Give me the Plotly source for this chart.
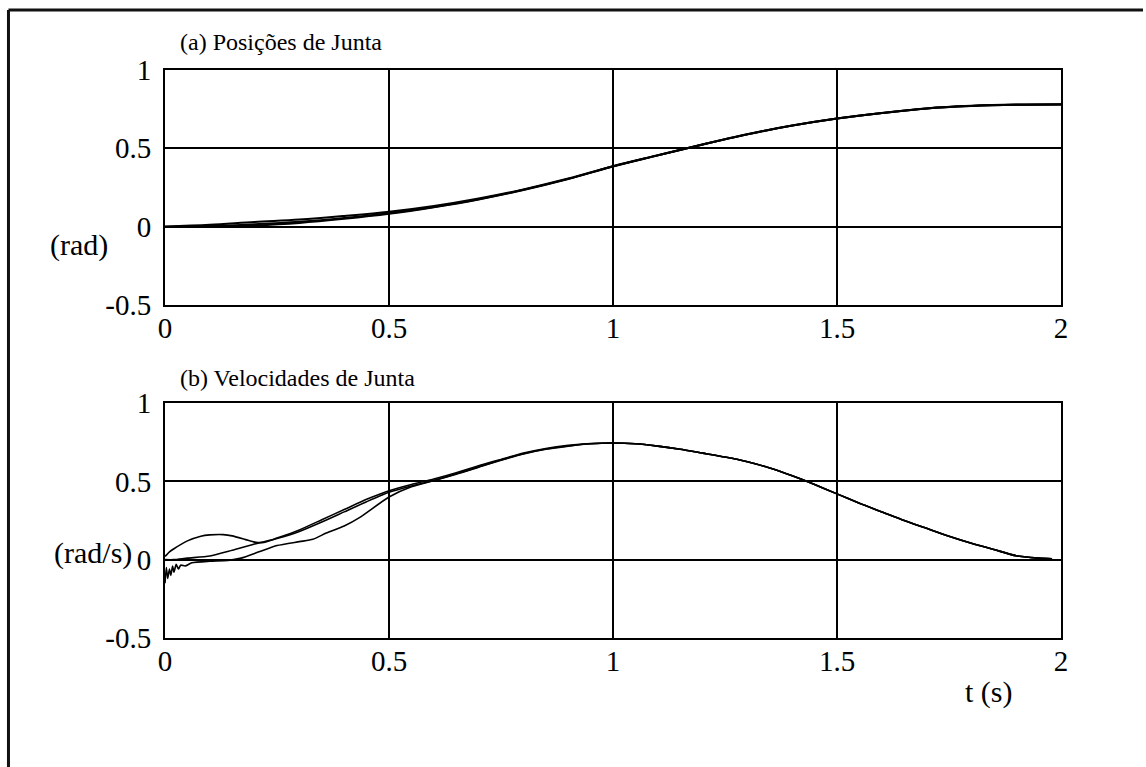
import plotly.graph_objects as go
from plotly.subplots import make_subplots

# ---------------- data ----------------
t_pos = [0.0, 0.1, 0.2, 0.3, 0.4, 0.5, 0.6, 0.7, 0.8, 0.9, 1.0, 1.1, 1.2,
         1.3, 1.4, 1.5, 1.6, 1.7, 1.8, 1.9, 2.0]
pos_a = [0.0, 0.012, 0.03, 0.045, 0.068, 0.095, 0.132, 0.18, 0.238, 0.307, 0.386,
         0.456, 0.525, 0.59, 0.645, 0.69, 0.726, 0.755, 0.771, 0.779, 0.781]
pos_b = [0.0, 0.004, 0.016, 0.032, 0.056, 0.086, 0.126, 0.175, 0.235, 0.305, 0.385,
         0.455, 0.525, 0.59, 0.645, 0.69, 0.725, 0.755, 0.77, 0.778, 0.78]
pos_c = [0.0, 0.0, 0.008, 0.024, 0.05, 0.082, 0.124, 0.174, 0.234, 0.304, 0.384,
         0.455, 0.524, 0.589, 0.645, 0.69, 0.725, 0.754, 0.77, 0.778, 0.78]

# velocity: individual starts + shared tail
t_vel_a = [0.0, 0.01, 0.02, 0.05, 0.08, 0.1, 0.13, 0.15, 0.18, 0.2, 0.22, 0.25,
           0.3, 0.35, 0.4, 0.45, 0.5, 0.55, 0.6, 0.65, 0.7, 0.75, 0.8, 0.85, 0.9, 0.95]
vel_a = [0.02, 0.05, 0.07, 0.12, 0.15, 0.158, 0.16, 0.152, 0.128, 0.112, 0.11, 0.138,
         0.19, 0.255, 0.32, 0.385, 0.44, 0.48, 0.515, 0.555, 0.6, 0.64, 0.68, 0.71, 0.73, 0.742]

t_vel_b = [0.0, 0.02, 0.05, 0.1, 0.15, 0.2, 0.25, 0.3, 0.35, 0.4, 0.45, 0.5,
           0.55, 0.6, 0.65, 0.7, 0.75, 0.8, 0.85, 0.9, 0.95]
vel_b = [0.0, 0.0, 0.01, 0.023, 0.06, 0.1, 0.135, 0.18, 0.24, 0.305, 0.37, 0.43,
         0.47, 0.505, 0.545, 0.59, 0.635, 0.675, 0.705, 0.725, 0.74]

t_vel_c = [0.0, 0.003, 0.006, 0.01, 0.013, 0.017, 0.02, 0.025, 0.03, 0.035, 0.045,
           0.06, 0.1, 0.14, 0.17, 0.21, 0.25, 0.3, 0.33, 0.36, 0.4, 0.435, 0.5,
           0.55, 0.6, 0.65, 0.7, 0.75, 0.8, 0.85, 0.9, 0.95]
vel_c = [-0.15, -0.05, -0.12, -0.06, -0.1, -0.04, -0.08, -0.03, -0.06, -0.035, -0.04,
         -0.02, -0.01, -0.005, 0.01, 0.05, 0.09, 0.115, 0.13, 0.17, 0.215, 0.27, 0.4,
         0.465, 0.505, 0.548, 0.592, 0.637, 0.676, 0.706, 0.726, 0.74]

t_vel_tail = [1.0, 1.05, 1.1, 1.15, 1.2, 1.25, 1.3, 1.35, 1.4, 1.45, 1.5, 1.55,
              1.6, 1.65, 1.7, 1.75, 1.8, 1.85, 1.9, 1.95, 1.98]
vel_tail = [0.745, 0.74, 0.725, 0.705, 0.68, 0.655, 0.625, 0.585, 0.535, 0.48, 0.42,
            0.36, 0.305, 0.25, 0.2, 0.15, 0.105, 0.065, 0.025, 0.01, 0.005]

x_tickvals = [0, 0.5, 1, 1.5, 2]
x_ticktext = ["0", "0.5", "1", "1.5", "2"]
y_tickvals = [-0.5, 0, 0.5, 1]
y_ticktext = ["-0.5", "0", "0.5", "1"]

titles = ["(a) Posições de Junta", "(b) Velocidades de Junta"]
ylabels = ["(rad)", "(rad/s)"]
xlabel = "t (s)"

# ---------------- figure ----------------
FONT = "Liberation Serif, Times New Roman, serif"
fig = make_subplots(rows=2, cols=1, vertical_spacing=0.1726)

for p in (pos_a, pos_b, pos_c):
    fig.add_trace(go.Scatter(x=t_pos, y=p, mode="lines",
                             line=dict(color="black", width=2, shape="spline")),
                  row=1, col=1)
for tv, vv in ((t_vel_a, vel_a), (t_vel_b, vel_b), (t_vel_c, vel_c)):
    fig.add_trace(go.Scatter(x=tv + t_vel_tail, y=vv + vel_tail, mode="lines",
                             line=dict(color="black", width=1.6, shape="spline",
                                       smoothing=0.6)), row=2, col=1)

axis_common = dict(showline=True, mirror=True, linecolor="black", linewidth=2,
                   showgrid=True, gridcolor="black", gridwidth=1.5, zeroline=False,
                   ticks="", tickfont=dict(family=FONT, size=29, color="black"))
for r in (1, 2):
    fig.update_xaxes(range=[0, 2], tickvals=x_tickvals, ticktext=x_ticktext,
                     ticklabelstandoff=-4, row=r, col=1, **axis_common)
    fig.update_yaxes(range=[-0.5, 1], tickvals=y_tickvals, ticktext=y_ticktext,
                     ticklabelstandoff=6, row=r, col=1, **axis_common)
fig.update_layout(yaxis=dict(domain=[0.5863, 1.0]), yaxis2=dict(domain=[0.0, 0.4137]))

ann = [
    dict(text=titles[0], x=0.0145, y=1.049, font_size=24),
    dict(text=titles[1], x=0.0145, y=0.4577, font_size=24),
    dict(text=ylabels[0], x=-0.1306, y=0.692, font_size=30),
    dict(text=ylabels[1], x=-0.1261, y=0.1496, font_size=30),
    dict(text=xlabel, x=0.8906, y=-0.0951, font_size=30),
]
for a in ann:
    fs = a.pop("font_size")
    fig.add_annotation(xref="paper", yref="paper", xanchor="left", yanchor="middle",
                       showarrow=False, font=dict(family=FONT, size=fs, color="black"), **a)

# outer frame: only its left and top edges fall inside the picture
frame = dict(color="#111111", width=3)
fig.add_shape(type="line", xref="paper", yref="paper", x0=-0.1747, x1=-0.1747,
              y0=-0.3, y1=1.1056, line=frame)
fig.add_shape(type="line", xref="paper", yref="paper", x0=-0.1747, x1=1.0915,
              y0=1.1056, y1=1.1056, line=frame)

fig.update_layout(width=1146, height=767, showlegend=False,
                  margin=dict(l=165, r=85, t=70, b=129),
                  paper_bgcolor="white", plot_bgcolor="white",
                  font=dict(family=FONT, color="black"))

fig.write_html("out.html")
